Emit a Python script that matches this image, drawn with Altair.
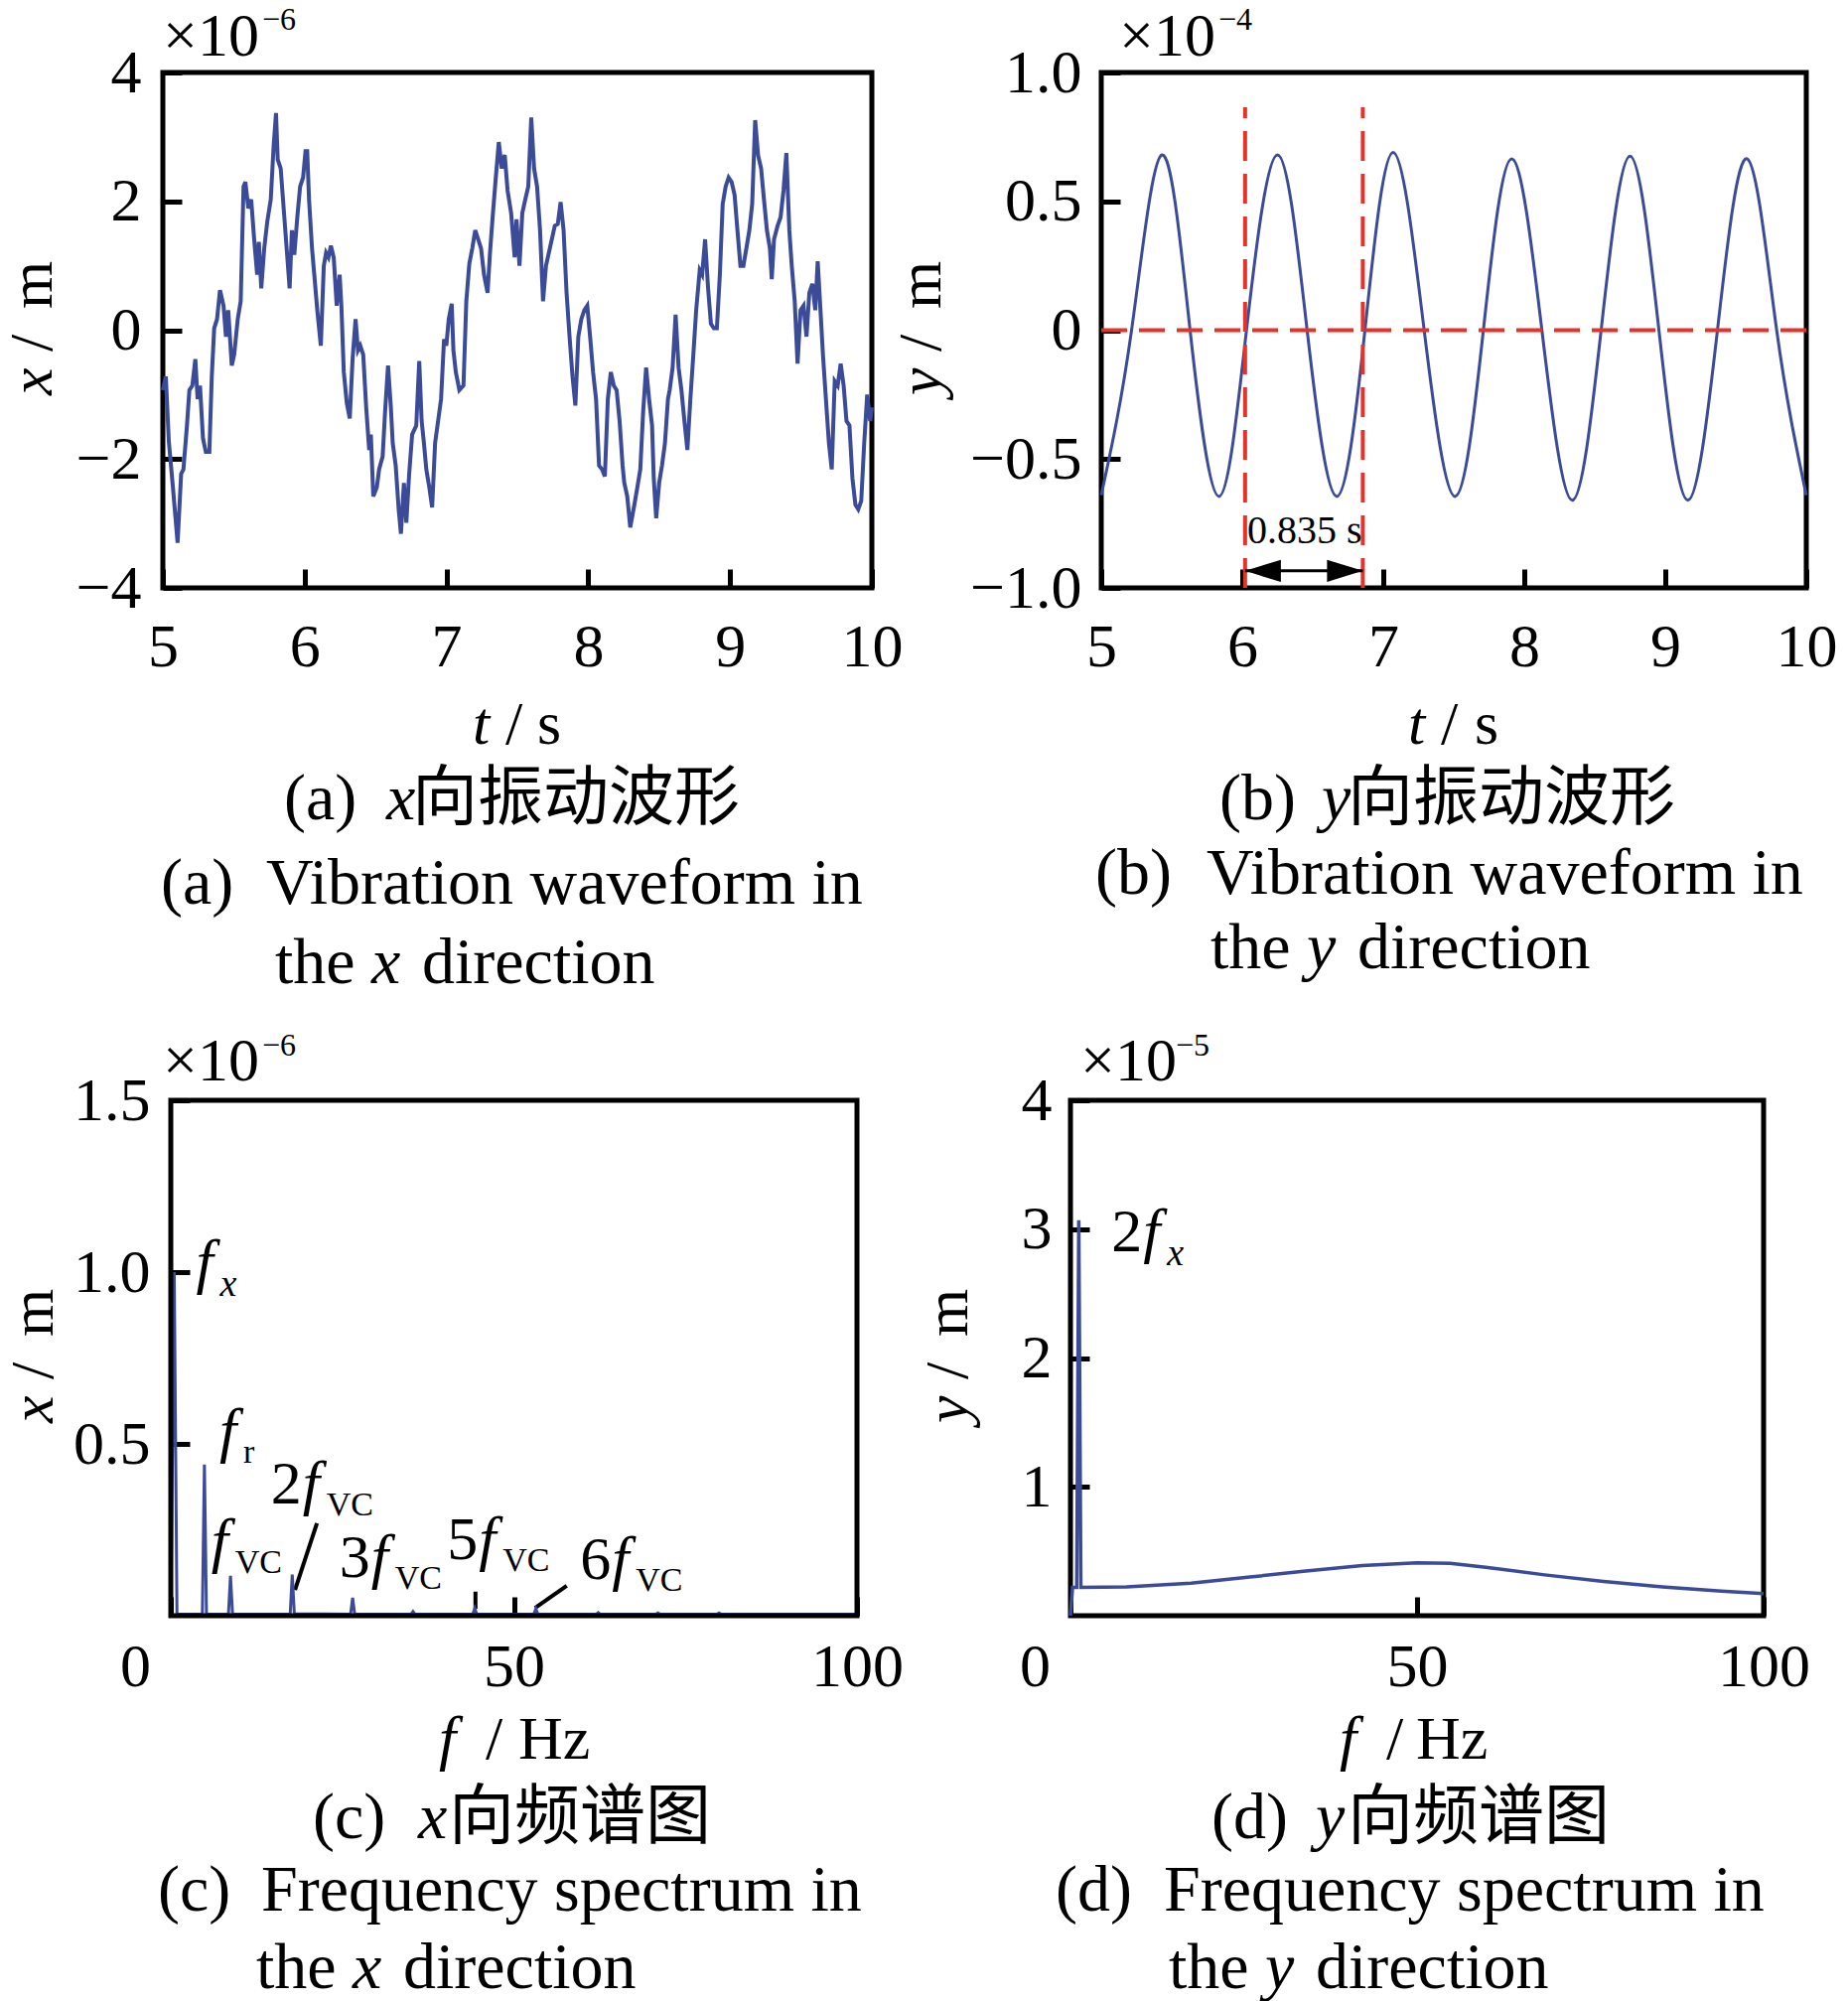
import altair as alt
import pandas as pd

SERIF = "Liberation Serif"
CJK = "Noto Sans CJK SC"
BLUE = "#3c4b98"
RED = "#e5332a"

# ---------------- (a) x-direction waveform (unit 1e-6 m) ----------------
t_a = [5.000, 5.021, 5.042, 5.071, 5.104, 5.129, 5.145, 5.170, 5.187, 5.208,
       5.229, 5.245, 5.262, 5.283, 5.303, 5.328, 5.345, 5.362, 5.382, 5.403,
       5.428, 5.445, 5.461, 5.486, 5.503, 5.528, 5.549, 5.569, 5.582, 5.603,
       5.623, 5.644, 5.665, 5.677, 5.694, 5.715, 5.736, 5.761, 5.781, 5.798,
       5.810, 5.831, 5.852, 5.873, 5.894, 5.910, 5.927, 5.948, 5.968, 5.989,
       6.006, 6.018, 6.031, 6.052, 6.068, 6.089, 6.114, 6.135, 6.151, 6.168,
       6.185, 6.205, 6.226, 6.247, 6.259, 6.276, 6.297, 6.318, 6.338, 6.359,
       6.376, 6.392, 6.413, 6.434, 6.455, 6.467, 6.484, 6.509, 6.525, 6.550,
       6.567, 6.588, 6.608, 6.621, 6.642, 6.663, 6.679, 6.700, 6.717, 6.737,
       6.758, 6.787, 6.808, 6.825, 6.841, 6.858, 6.879, 6.899, 6.920, 6.941,
       6.962, 6.983, 6.999, 7.016, 7.037, 7.049, 7.066, 7.091, 7.120, 7.140,
       7.161, 7.182, 7.203, 7.224, 7.244, 7.265, 7.290, 7.307, 7.328, 7.348,
       7.369, 7.390, 7.411, 7.431, 7.456, 7.481, 7.494, 7.515, 7.535, 7.556,
       7.577, 7.598, 7.618, 7.639, 7.660, 7.681, 7.702, 7.722, 7.743, 7.764,
       7.785, 7.805, 7.826, 7.847, 7.868, 7.889, 7.909, 7.930, 7.951, 7.972,
       7.993, 8.013, 8.034, 8.055, 8.076, 8.097, 8.117, 8.138, 8.159, 8.180,
       8.200, 8.221, 8.242, 8.254, 8.275, 8.296, 8.325, 8.346, 8.367, 8.387,
       8.408, 8.429, 8.450, 8.462, 8.479, 8.500, 8.520, 8.541, 8.562, 8.574,
       8.595, 8.616, 8.637, 8.657, 8.678, 8.699, 8.720, 8.741, 8.761, 8.786,
       8.803, 8.824, 8.845, 8.865, 8.886, 8.907, 8.928, 8.948, 8.969, 8.990,
       9.011, 9.032, 9.052, 9.073, 9.094, 9.115, 9.136, 9.156, 9.177, 9.198,
       9.219, 9.239, 9.260, 9.281, 9.294, 9.310, 9.335, 9.356, 9.377, 9.397,
       9.418, 9.435, 9.456, 9.476, 9.497, 9.518, 9.539, 9.559, 9.580, 9.601,
       9.618, 9.634, 9.655, 9.676, 9.697, 9.717, 9.738, 9.759, 9.780, 9.801,
       9.821, 9.842, 9.863, 9.884, 9.904, 9.925, 9.946, 9.967, 9.988, 10.000]
x_a = [-0.93, -0.72, -1.72, -2.44, -3.30, -2.23, -2.16, -1.48, -0.93, -0.86,
       -0.45, -1.07, -0.86, -1.68, -1.89, -1.89, -0.72, 0.03, 0.17, 0.62,
       0.38, -0.10, 0.31, -0.55, -0.38, 0.17, 0.45, 2.23, 2.30, 1.89,
       2.03, 1.41, 0.86, 1.37, 0.65, 1.27, 1.68, 2.03, 2.85, 3.37,
       2.65, 2.51, 1.89, 1.27, 0.65, 1.55, 1.17, 1.75, 2.23, 2.37,
       2.78, 2.78, 2.03, 1.27, 0.86, 0.31, -0.24, 1.00, 1.20, 1.13,
       1.31, 1.13, 0.38, 0.86, 0.38, -0.65, -1.13, -1.37, -0.45, 0.17,
       -0.31, -0.24, -0.38, -1.20, -1.86, -1.62, -2.58, -2.44, -2.16, -1.96,
       -1.27, -0.55, -1.20, -1.75, -2.10, -2.78, -3.16, -2.37, -2.99, -2.23,
       -1.62, -1.48, -0.48, -1.41, -1.75, -2.16, -2.44, -2.75, -1.75, -1.41,
       -1.07, -0.14, -0.24, 0.17, 0.41, -0.31, -0.65, -0.93, -0.86, 0.45,
       1.03, 1.27, 1.55, 1.41, 1.27, 0.86, 0.58, 1.20, 1.82, 2.37,
       2.92, 2.51, 2.72, 2.17, 1.82, 1.13, 1.72, 1.00, 1.82, 2.03,
       2.23, 3.30, 2.51, 2.23, 1.55, 0.45, 1.00, 1.20, 1.41, 1.62,
       1.65, 1.99, 1.55, 0.58, -0.10, -0.72, -1.17, -0.10, 0.17, 0.31,
       0.38, -0.10, -0.65, -1.07, -2.10, -2.16, -2.27, -1.07, -0.65, -0.86,
       -0.93, -1.41, -2.10, -2.37, -2.58, -3.06, -2.71, -2.44, -2.16, -1.27,
       -0.58, -1.07, -1.48, -2.30, -2.92, -2.37, -2.10, -1.75, -1.07, -0.93,
       -0.58, 0.24, -0.58, -0.93, -1.41, -1.86, -1.07, -0.38, 0.31, 0.93,
       0.86, 1.41, 0.65, 0.10, 0.03, 0.03, 0.86, 1.96, 2.23, 2.37,
       2.30, 2.10, 1.55, 1.00, 1.00, 1.27, 1.55, 1.96, 3.26, 2.71,
       2.51, 2.03, 1.55, 1.27, 0.79, 1.41, 1.62, 1.75, 2.17, 2.75,
       1.55, 1.00, 0.45, -0.52, 0.31, 0.38, -0.10, 0.58, 0.72, 0.31,
       1.07, 0.45, -0.38, -1.07, -1.75, -2.16, -0.79, -0.86, -0.52, -0.86,
       -1.41, -1.48, -2.30, -2.71, -2.78, -2.65, -1.75, -1.00, -1.41, -1.20]

# ---------------- (b) y-direction waveform (unit 1e-4 m) ----------------
t_b = [5.0, 5.215, 5.43, 5.63, 5.835, 6.03, 6.25, 6.46, 6.67, 6.87, 7.07, 7.29, 7.51,
       7.71, 7.91, 8.125, 8.34, 8.545, 8.75, 8.955, 9.16, 9.37, 9.58, 9.79, 10.0]
y_b = [-0.64, 0.0, 0.68, 0.0, -0.645, 0.0, 0.68, 0.0, -0.645, 0.0, 0.69, 0.0, -0.645,
       0.0, 0.665, 0.0, -0.66, 0.0, 0.675, 0.0, -0.66, 0.0, 0.665, 0.0, -0.64]
period_marks = [6.02, 6.855]
period_top = 0.865
arrow_level = -0.934
period_label = "0.835 s"
period_label_at = [6.035, -0.826]

# ---------------- (c) x-direction spectrum (unit 1e-6 m) ----------------
f_c = [0, 0.5, 0.9, 4.6, 4.9, 5.2, 8.4, 8.7, 9.0, 17.4, 17.7, 18.0, 26.2, 26.5, 26.8,
       35.0, 35.3, 35.6, 44.0, 44.3, 44.6, 52.9, 53.2, 53.5, 62.0, 62.3, 62.6,
       70.7, 71.0, 71.3, 79.6, 79.9, 80.2, 100]
a_c = [0, 1.0, 0.004, 0.004, 0.44, 0.004, 0.004, 0.116, 0.004, 0.004, 0.12, 0.006,
       0.004, 0.052, 0.004, 0.004, 0.012, 0.004, 0.004, 0.022, 0.004, 0.004, 0.02,
       0.004, 0.004, 0.009, 0.004, 0.004, 0.008, 0.004, 0.004, 0.008, 0.004, 0.004]
c_domain_f = [0, 100]
c_domain_v = [0, 1.5]
lab_c_f = [3.7, 7.1, 19.2, 5.9, 29.2, 44.9, 64.3]
lab_c_v = [0.97, 0.48, 0.328, 0.159, 0.113, 0.165, 0.107]
lab_c_pre = ["", "", "2", "", "3", "5", "6"]
lab_c_sub = ["x", "r", "VC", "VC", "VC", "VC", "VC"]
lead_f1 = [18.1, 44.4, 53.1]
lead_v1 = [0.075, 0.02, 0.023]
lead_f2 = [21.3, 44.4, 57.7]
lead_v2 = [0.269, 0.07, 0.087]

# ---------------- (d) y-direction spectrum (unit 1e-5 m) ----------------
f_d = [0, 0.3, 0.9, 1.2, 1.5, 8.1, 17.4, 25.9, 33.6, 42.1, 50.0, 54.8, 59.9, 68.4,
       76.9, 85.4, 93.9, 100]
a_d = [0, 0.22, 0.22, 3.07, 0.22, 0.224, 0.252, 0.30, 0.345, 0.39, 0.41, 0.407,
       0.376, 0.317, 0.266, 0.224, 0.19, 0.172]
lab_d_f = [10.5]
lab_d_v = [2.83]
lab_d_pre = ["2"]
lab_d_sub = ["x"]

one = pd.DataFrame({"k": [0]})
CAP = 66


def txt(s, x, y, size=62, italic=False, align="left", baseline="alphabetic",
        angle=0, font=SERIF):
    kw = dict(text=s, font=font, fontSize=size, align=align, baseline=baseline,
              color="black")
    if italic:
        kw["fontStyle"] = "italic"
    if angle:
        kw["angle"] = angle
    return alt.Chart(one).mark_text(**kw).encode(x=alt.value(x), y=alt.value(y))


def ytitle(var, x):
    return [txt(var, x, 325, italic=True, angle=270, baseline="middle"),
            txt("/", x, 281, angle=270, baseline="middle"),
            txt("m", x, 238, angle=270, baseline="middle")]


def captions(cn_x, cn_var, cn_text, cn_y, en_x, en_text, en_y, l2_x, l2_var, l2_y, tag):
    return [
        txt(tag, cn_x[0], cn_y, size=CAP),
        txt(cn_var, cn_x[1], cn_y, size=CAP, italic=True),
        txt(cn_text, cn_x[2], cn_y, size=66, font=CJK),
        txt(tag, en_x[0], en_y, size=CAP),
        txt(en_text, en_x[1], en_y, size=CAP),
        txt("the", l2_x, l2_y, size=CAP),
        txt(l2_var, l2_x + 97, l2_y, size=CAP, italic=True),
        txt("direction", l2_x + 148, l2_y, size=CAP),
    ]


def xaxis(values, pad, **extra):
    return alt.Axis(values=values, title="", labelPadding=pad,
                    labelBaseline="alphabetic", format="d", **extra)


def yaxis(values, pad, **extra):
    return alt.Axis(values=values, title="", labelPadding=pad, **extra)


# ---------------- panel (a) ----------------
Wa, Ha = 714, 519
Xa = alt.X("t:Q", scale=alt.Scale(domain=[5, 10], nice=False, zero=False),
           axis=xaxis([5, 6, 7, 8, 9, 10], 78))
Ya = alt.Y("v:Q", scale=alt.Scale(domain=[-4, 4], nice=False),
           axis=yaxis([-4, -2, 0, 2, 4], 22, format="d"))
line_a = alt.Chart(pd.DataFrame({"t": t_a, "v": x_a})).mark_line(
    color=BLUE, strokeWidth=4).encode(x=Xa, y=Ya)
panel_a = alt.layer(
    line_a,
    txt("\u00d710", 0, -17), txt("\u22126", 100, -43, size=32),
    *ytitle("x", -131),
    txt("t", 312, 676, italic=True), txt("/", 345, 676), txt("s", 377, 676),
    *captions([122, 225, 251], "x", "向振动波形", 752, [-2, 104],
              "Vibration waveform in", 837, 113, "x", 917, "(a)"),
).properties(width=Wa, height=Ha)

# ---------------- panel (b) ----------------
Wb, Hb = 710, 519
Xb = alt.X("t:Q", scale=alt.Scale(domain=[5, 10], nice=False, zero=False),
           axis=xaxis([5, 6, 7, 8, 9, 10], 78))
Yb = alt.Y("v:Q", scale=alt.Scale(domain=[-1, 1], nice=False),
           axis=yaxis([-1, -0.5, 0, 0.5, 1], 20,
                      labelExpr="datum.value == 0 ? '0' : format(datum.value, '.1f')"))
line_b = alt.Chart(pd.DataFrame({"t": t_b, "v": y_b})).mark_line(
    color=BLUE, strokeWidth=3, interpolate="natural").encode(x=Xb, y=Yb)
hline_b = alt.Chart(pd.DataFrame({"t": [5], "t2": [10], "v": [0]})).mark_rule(
    color=RED, strokeWidth=4, strokeDash=[26, 12]).encode(x=Xb, x2="t2:Q", y=Yb)
vline_b = alt.Chart(pd.DataFrame({"t": period_marks, "v": [-1, -1],
                                  "v2": [period_top, period_top]})).mark_rule(
    color=RED, strokeWidth=4, strokeDash=[30, 13]).encode(x=Xb, y=Yb, y2="v2:Q")
arrow_df = pd.DataFrame({"t": [period_marks[0]], "t2": [period_marks[1]],
                         "v": [arrow_level]})
arrow_line = alt.Chart(arrow_df).mark_rule(color="black", strokeWidth=3).encode(
    x=Xb, x2="t2:Q", y=Yb)
head_l = alt.Chart(pd.DataFrame({"t": [period_marks[0]], "v": [arrow_level]})).mark_point(
    shape="M0,0L2,-0.62L2,0.62Z", size=1300, filled=True, color="black",
    opacity=1).encode(x=Xb, y=Yb)
head_r = alt.Chart(pd.DataFrame({"t": [period_marks[1]], "v": [arrow_level]})).mark_point(
    shape="M0,0L-2,-0.62L-2,0.62Z", size=1300, filled=True, color="black",
    opacity=1).encode(x=Xb, y=Yb)
plabel = alt.Chart(pd.DataFrame({"t": [period_label_at[0]], "v": [period_label_at[1]],
                                 "s": [period_label]})).mark_text(
    font=SERIF, fontSize=40, align="left", baseline="alphabetic", color="black").encode(
    x=Xb, y=Yb, text="s:N")
panel_b = alt.layer(
    line_b, hline_b, vline_b, arrow_line, head_l, head_r, plabel,
    txt("\u00d710", 18, -17), txt("\u22124", 118, -43, size=32),
    *ytitle("y", -181),
    txt("t", 309, 676, italic=True), txt("/", 342, 676), txt("s", 376, 676),
    *captions([119, 222, 248], "y", "向振动波形", 752, [-6, 106],
              "Vibration waveform in", 827, 110, "y", 902, "(b)"),
).properties(width=Wb, height=Hb)


# ---------------- spectrum helpers ----------------
def spectrum_labels(X, Y, f, v, pre, sub):
    df = pd.DataFrame({"t": f, "v": v, "pre": pre, "sub": sub})
    base = alt.Chart(df)
    p = base.mark_text(font=SERIF, fontSize=62, align="right", baseline="alphabetic",
                       color="black", dx=-1).encode(x=X, y=Y, text="pre:N")
    ff = base.mark_text(font=SERIF, fontSize=62, fontStyle="italic", align="left",
                        baseline="alphabetic", color="black", text="f").encode(x=X, y=Y)
    s_it = base.transform_filter("datum.sub == 'x'").mark_text(
        font=SERIF, fontSize=38, fontStyle="italic", align="left",
        baseline="alphabetic", color="black", dx=24, dy=14).encode(x=X, y=Y, text="sub:N")
    s_up = base.transform_filter("datum.sub != 'x'").mark_text(
        font=SERIF, fontSize=34, align="left", baseline="alphabetic", color="black",
        dx=24, dy=12).encode(x=X, y=Y, text="sub:N")
    return [p, ff, s_it, s_up]


zero_shift = {"condition": {"test": "datum.value == 0", "value": -36}, "value": 0}

# ---------------- panel (c) ----------------
# the view starts 8 px left of the frame so that both rows share one left edge
Wc, Hc, Lc = 699, 519, 8
Xc = alt.X("t:Q", scale=alt.Scale(domain=c_domain_f, nice=False, range=[Lc, Wc]),
           axis=xaxis([0, 50, 100], 70, labelOffset=zero_shift))
Yc = alt.Y("v:Q", scale=alt.Scale(domain=c_domain_v, nice=False),
           axis=yaxis([0.5, 1.0, 1.5], 21, format=".1f", offset=-19 - Lc))
line_c = alt.Chart(pd.DataFrame({"t": f_c, "v": a_c})).mark_line(
    color=BLUE, strokeWidth=3).encode(x=Xc, y=Yc)
frame_c = alt.Chart(pd.DataFrame({"t": [c_domain_f[0]], "t2": [c_domain_f[1]],
                                  "v": [c_domain_v[0]], "v2": [c_domain_v[1]]})).mark_rect(
    filled=False, color="black", strokeWidth=5).encode(x=Xc, x2="t2:Q", y=Yc, y2="v2:Q")
lead_c = alt.Chart(pd.DataFrame({"t": lead_f1, "v": lead_v1, "t2": lead_f2,
                                 "v2": lead_v2})).mark_rule(
    color="black", strokeWidth=4).encode(x=Xc, y=Yc, x2="t2:Q", y2="v2:Q")
panel_c = alt.layer(
    lead_c, line_c, frame_c,
    *spectrum_labels(Xc, Yc, lab_c_f, lab_c_v, lab_c_pre, lab_c_sub),
    txt("\u00d710", 0, -20), txt("\u22126", 100, -45, size=32),
    *ytitle("x", -130),
    txt("f", 278, 663, italic=True), txt("/", 325, 663), txt("Hz", 358, 663),
    *captions([151, 257, 288], "x", "向频谱图", 743, [-5, 99],
              "Frequency spectrum in", 816, 94, "x", 894, "(c)"),
).properties(width=Wc, height=Hc, view=alt.ViewBackground(stroke="transparent"))

# ---------------- panel (d) ----------------
Wd, Hd = 698, 519
Xd = alt.X("t:Q", scale=alt.Scale(domain=[0, 100], nice=False),
           axis=xaxis([0, 50, 100], 70, labelOffset=zero_shift))
Yd = alt.Y("v:Q", scale=alt.Scale(domain=[0, 4], nice=False),
           axis=yaxis([1, 2, 3, 4], 19, format="d"))
line_d = alt.Chart(pd.DataFrame({"t": f_d, "v": a_d})).mark_line(
    color=BLUE, strokeWidth=3.5).encode(x=Xd, y=Yd)
panel_d = alt.layer(
    line_d,
    *spectrum_labels(Xd, Yd, lab_d_f, lab_d_v, lab_d_pre, lab_d_sub),
    txt("\u00d710", 10, -20), txt("\u22125", 106, -45, size=32),
    *ytitle("y", -123),
    txt("f", 271, 663, italic=True), txt("/", 318, 663), txt("Hz", 348, 663),
    *captions([142, 247, 279], "y", "向频谱图", 743, [-15, 94],
              "Frequency spectrum in", 816, 99, "y", 894, "(d)"),
).properties(width=Wd, height=Hd)

row1 = alt.hconcat(panel_a, panel_b, spacing=231, bounds="flush")
row2 = alt.hconcat(panel_c, panel_d, spacing=215, bounds="flush")

chart = alt.vconcat(row1, row2, spacing=1035, bounds="flush").properties(
    padding={"left": -9, "top": -7, "right": 0, "bottom": 0}
).configure_view(
    stroke="black", strokeWidth=5
).configure_axis(
    domain=False, grid=False, ticks=True, tickColor="black", tickWidth=5,
    tickSize=19, offset=-19, labelFont=SERIF, labelFontSize=62, labelColor="black",
    labelFlush=False, labelOverlap=False
)

chart.save("out.html", embed_options={"renderer": "svg", "actions": False})
